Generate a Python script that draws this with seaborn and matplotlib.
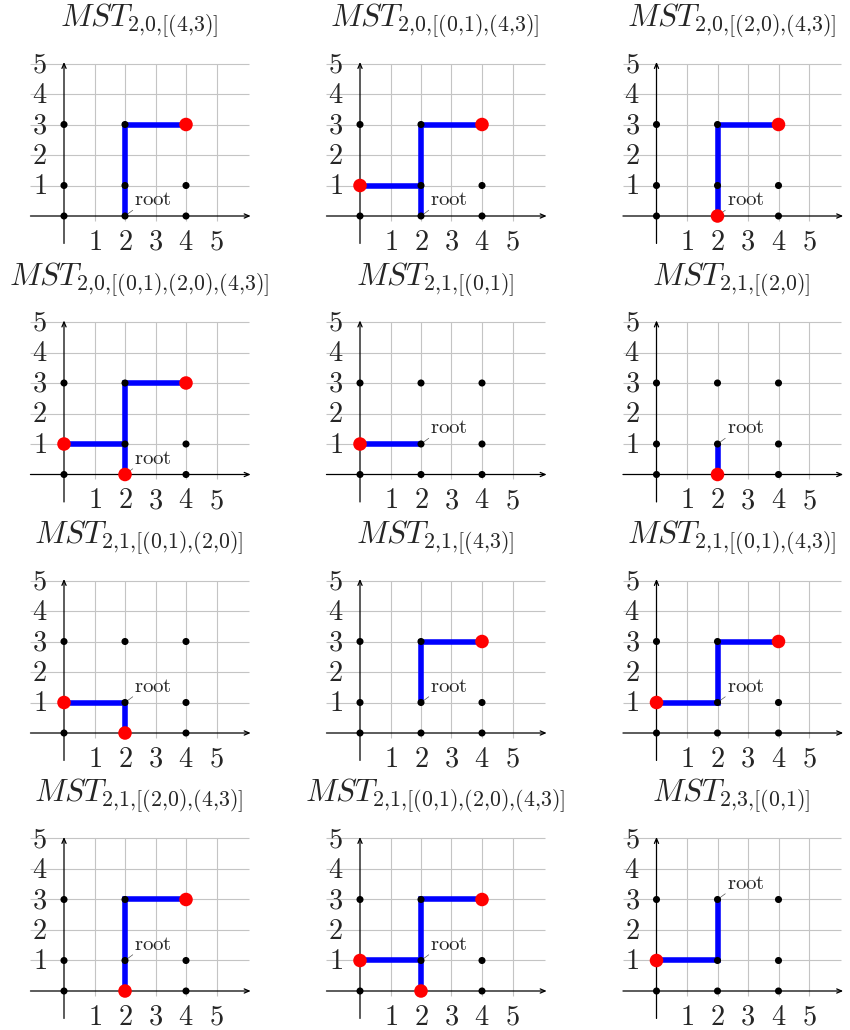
import matplotlib
matplotlib.use("Agg")
import matplotlib.pyplot as plt
import seaborn as sns
import pandas as pd

sns.set_style("white")
plt.rcParams["mathtext.fontset"] = "cm"
plt.rcParams["font.family"] = ["DejaVu Sans"]

# ---------------- data ----------------
subscripts = [
    "2,0,[(4,3)]", "2,0,[(0,1),(4,3)]", "2,0,[(2,0),(4,3)]",
    "2,0,[(0,1),(2,0),(4,3)]", "2,1,[(0,1)]", "2,1,[(2,0)]",
    "2,1,[(0,1),(2,0)]", "2,1,[(4,3)]", "2,1,[(0,1),(4,3)]",
    "2,1,[(2,0),(4,3)]", "2,1,[(0,1),(2,0),(4,3)]", "2,3,[(0,1)]",
]
roots = [(2, 0), (2, 0), (2, 0), (2, 0), (2, 1), (2, 1),
         (2, 1), (2, 1), (2, 1), (2, 1), (2, 1), (2, 3)]
terminals = [
    [(4, 3)], [(0, 1), (4, 3)], [(2, 0), (4, 3)],
    [(0, 1), (2, 0), (4, 3)], [(0, 1)], [(2, 0)],
    [(0, 1), (2, 0)], [(4, 3)], [(0, 1), (4, 3)],
    [(2, 0), (4, 3)], [(0, 1), (2, 0), (4, 3)], [(0, 1)],
]
tree_paths = [
    [[(2, 0), (2, 3), (4, 3)]],
    [[(0, 1), (2, 1)], [(2, 0), (2, 3), (4, 3)]],
    [[(2, 0), (2, 3), (4, 3)]],
    [[(0, 1), (2, 1)], [(2, 0), (2, 3), (4, 3)]],
    [[(0, 1), (2, 1)]],
    [[(2, 0), (2, 1)]],
    [[(0, 1), (2, 1), (2, 0)]],
    [[(2, 1), (2, 3), (4, 3)]],
    [[(0, 1), (2, 1), (2, 3), (4, 3)]],
    [[(2, 0), (2, 3), (4, 3)]],
    [[(0, 1), (2, 1)], [(2, 0), (2, 3), (4, 3)]],
    [[(0, 1), (2, 1), (2, 3)]],
]
node_x = [0, 2, 4]
node_y = [0, 1, 3]
tick_values = [1, 2, 3, 4, 5]

# ---------------- layout ----------------
W, H = 850, 1030
fig = plt.figure(figsize=(W / 100, H / 100), dpi=100)
unit = 30.5
col_x0 = [64, 360, 656.5]
row_y0 = [216, 474.5, 733, 991]
XL, XR, YB, YT = -1.5, 6.4, -1.2, 5.4

grid_col = "#c4c4c4"
nodes = pd.DataFrame([(x, y) for x in node_x for y in node_y], columns=["x", "y"])

for i in range(12):
    r, c = divmod(i, 3)
    left_px = col_x0[c] + XL * unit
    bottom_px = row_y0[r] - YB * unit
    w_px = (XR - XL) * unit
    h_px = (YT - YB) * unit
    ax = fig.add_axes([left_px / W, 1 - bottom_px / H, w_px / W, h_px / H])
    ax.set_axis_off()

    # grid
    ax.hlines(tick_values, -1.1, 6.05, color=grid_col, lw=0.8, zorder=0)
    ax.vlines(tick_values, -0.15, 5.0, color=grid_col, lw=0.8, zorder=0)

    # axes arrows
    ax.annotate("", xy=(6.12, 0), xytext=(-1.1, 0),
                arrowprops=dict(arrowstyle="->,head_length=0.35,head_width=0.15",
                                lw=0.9, color="black", shrinkA=0, shrinkB=0), zorder=1)
    ax.annotate("", xy=(0, 5.05), xytext=(0, -0.9),
                arrowprops=dict(arrowstyle="->,head_length=0.35,head_width=0.15",
                                lw=0.9, color="black", shrinkA=0, shrinkB=0), zorder=1)

    # tick labels
    for t in tick_values:
        ax.text(t, -0.84, f"${t}$", ha="center", va="center", fontsize=20.5)
        ax.text(-0.8, t - 0.03, f"${t}$", ha="center", va="center", fontsize=20.5)

    # tree edges
    rows = []
    for k, path in enumerate(tree_paths[i]):
        for j, (px, py) in enumerate(path):
            rows.append((k, j, px, py))
    edges = pd.DataFrame(rows, columns=["edge", "order", "x", "y"])
    sns.lineplot(data=edges, x="x", y="y", units="edge", estimator=None, sort=False,
                 color="#0000ff", lw=4, ax=ax, legend=False, zorder=2,
                 solid_joinstyle="miter", solid_capstyle="butt")

    # nodes
    sns.scatterplot(data=nodes, x="x", y="y", color="black", s=26,
                    edgecolor="none", ax=ax, legend=False, zorder=3)
    term = pd.DataFrame(terminals[i], columns=["x", "y"])
    sns.scatterplot(data=term, x="x", y="y", color="#ff0000", s=95,
                    edgecolor="none", ax=ax, legend=False, zorder=4)

    # root label with leader line
    rx, ry = roots[i]
    ax.annotate(r"$\mathrm{root}$", xy=(rx, ry),
                xytext=(rx + 0.93, ry + 0.36), ha="center", va="baseline",
                fontsize=15,
                arrowprops=dict(arrowstyle="-", lw=0.5, color="#555555",
                                patchA=None, relpos=(0.0, 0.0),
                                shrinkA=1.5, shrinkB=0), zorder=2.5)

    # title (no extra space after commas inside the subscript, as in TeX)
    sub = subscripts[i].replace(",", "{,}")
    ax.text(2.45, 6.2, rf"$MST_{{{sub}}}$", ha="center", va="baseline",
            fontsize=22.5)

    ax.set_xlim(XL, XR)
    ax.set_ylim(YB, YT)
    ax.set_xlabel("")
    ax.set_ylabel("")

fig.savefig("out.png", dpi=100)
